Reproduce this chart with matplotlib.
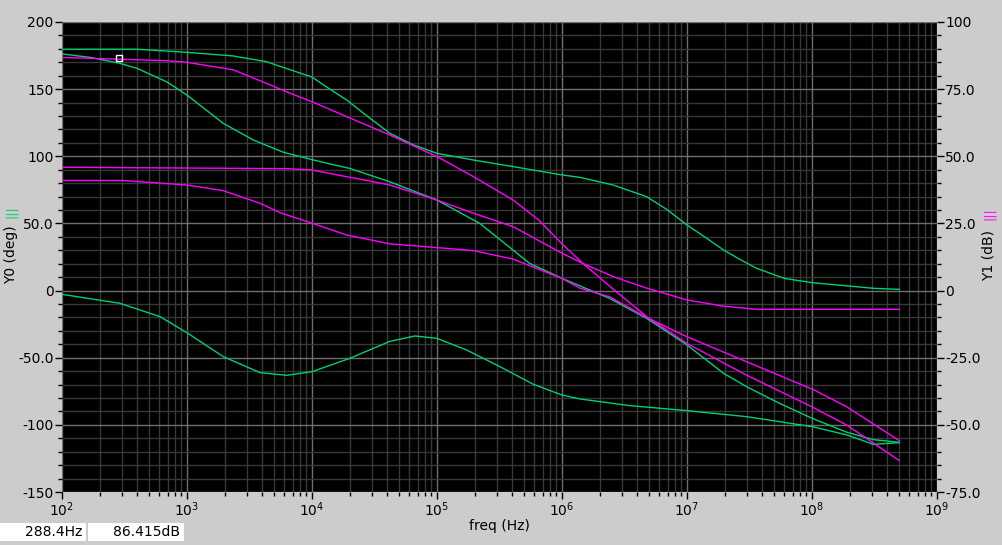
import matplotlib
matplotlib.use("Agg")
import matplotlib.pyplot as plt
from matplotlib.ticker import MultipleLocator, FixedLocator, FixedFormatter, LogLocator, NullFormatter

plt.rcParams['axes.unicode_minus'] = False
plt.rcParams['font.family'] = 'DejaVu Sans'

# phase curves (deg, left axis) - green
g1_f = [1e2, 398, 1e3, 2.34e3, 4.3e3, 5.55e3, 1e4, 1.39e4, 1.89e4, 2.8e4, 4.2e4, 6.5e4, 1e5, 1.96e5, 4.07e5, 1e6,
        1.39e6, 2.57e6, 4.76e6, 7e6, 1e7, 1.4e7, 1.96e7, 2.7e7, 3.6e7, 6e7, 1e8, 3.1e8, 5e8]
g1_v = [179.7, 179.7, 177.4, 174.7, 170.5, 167.0, 159.0, 150.0, 142.0, 129.5, 117.1, 108.4, 102.2, 97.2, 92.3, 86.1,
        84.3, 78.6, 69.9, 60.0, 48.8, 39.7, 30.2, 22.8, 16.6, 9.1, 5.9, 1.7, 0.9]

g2_f = [1e2, 167, 291, 398, 687, 1e3, 1.95e3, 3.4e3, 5.9e3, 1e4, 1.39e4, 2e4, 4.2e4, 1e5, 2.2e5, 5.5e5,
        1e6, 1.39e6, 2.4e6, 4.76e6, 1e7, 1.96e7, 3e7, 5.5e7, 1e8, 1.9e8, 3.1e8, 5e8]
g2_v = [176.2, 173.7, 169.2, 165.5, 155.5, 145.6, 124.5, 112.1, 103.0, 97.5, 94.3, 91.0, 81.0, 67.4, 50.0, 20.3,
        9.1, 3.5, -5.8, -20.7, -40.5, -61.6, -71.6, -84.0, -95.1, -105.5, -111.0, -113.0]

g3_f = [1e2, 291, 608, 1e3, 1950, 3840, 6270, 1e4, 2e4, 4.2e4, 6.67e4, 1e5, 1.73e5, 3.19e5, 5.9e5, 1e6,
        1.39e6, 3.5e6, 1e7, 3e7, 1e8, 1.9e8, 3.1e8, 5e8]
g3_v = [-2.8, -9.5, -19.4, -31.4, -49.2, -61.1, -63.1, -60.4, -50.5, -37.8, -33.8, -35.6, -44.3, -56.7, -69.8, -77.8,
        -80.7, -85.7, -89.4, -93.9, -101.3, -107.5, -114.5, -113.3]

# magnitude curves (dB, right axis) - magenta
m1_f = [1e2, 687, 1e3, 2.34e3, 4.3e3, 6.27e3, 1e4, 1.89e4, 4.2e4, 1e5, 1.96e5, 4.07e5, 6.5e5, 1e6, 1.47e6,
        2.65e6, 4.76e6, 1e7, 3e7, 1e8, 1.9e8, 5e8]
m1_v = [86.8, 85.6, 85.0, 82.2, 77.2, 74.0, 70.3, 64.8, 57.9, 49.9, 42.4, 33.7, 26.3, 17.4, 10.1,
        0.0, -9.7, -19.7, -31.5, -43.3, -50.1, -63.3]

m2_f = [1e2, 6.27e3, 1e4, 1.89e4, 2.42e4, 4.2e4, 1e5, 1.96e5, 4.07e5, 1e6, 1.47e6, 2.57e6, 4.76e6,
        1e7, 1.96e7, 3.6e7, 5e8]
m2_v = [45.9, 45.4, 44.9, 42.4, 41.5, 39.3, 33.7, 28.8, 23.8, 13.9, 10.1, 5.2, 0.9,
        -3.5, -5.8, -7.0, -7.0]

m3_f = [1e2, 300, 537, 1e3, 1950, 3840, 5.55e3, 1e4, 1.89e4, 4.2e4, 1e5, 1.96e5, 4.07e5, 1e6, 1.39e6,
        2.4e6, 4.76e6, 1e7, 3e7, 1.04e8, 1.9e8, 5e8]
m3_v = [41.0, 41.0, 40.2, 39.3, 37.2, 32.5, 29.0, 25.1, 20.7, 17.4, 16.0, 14.9, 11.7, 4.5, 0.9,
        -2.3, -10.0, -17.2, -26.5, -37.0, -43.3, -55.9]

cursor_f = 288.4
cursor_db = 86.415

green = '#00d070'
magenta = '#ff00ff'
bg = '#cccccc'

fig = plt.figure(figsize=(10.02, 5.45), dpi=100, facecolor=bg)
ax = fig.add_axes([62 / 1002, 53 / 545, 875 / 1002, 470 / 545])
ax.set_facecolor('black')
ax.set_xscale('log')
ax.set_xlim(1e2, 1e9)
ax.set_ylim(-150, 200)
ax.yaxis.set_major_locator(FixedLocator([-150, -100, -50, 0, 50, 100, 150, 200]))
ax.yaxis.set_major_formatter(FixedFormatter(['-150', '-100', '-50.0', '0', '50.0', '100', '150', '200']))
ax.yaxis.set_minor_locator(MultipleLocator(10))
ax.xaxis.set_minor_locator(LogLocator(base=10, subs=range(2, 10), numticks=20))
ax.xaxis.set_minor_formatter(NullFormatter())

ax.grid(which='major', color='#6e6e6e', linewidth=1)
ax.grid(which='minor', color='#383838', linewidth=1)
ax.set_axisbelow(True)
for s in ax.spines.values():
    s.set_visible(False)

ax.tick_params(which='major', length=5, width=1, color='black', labelsize=10, pad=1)
ax.tick_params(which='minor', length=3, width=1, color='black')

ax.plot(g1_f, g1_v, color=green, linewidth=1)
ax.plot(g2_f, g2_v, color=green, linewidth=1)
ax.plot(g3_f, g3_v, color=green, linewidth=1)

ax2 = ax.twinx()
ax2.set_ylim(-75, 100)
ax2.yaxis.set_major_locator(FixedLocator([-75, -50, -25, 0, 25, 50, 75, 100]))
ax2.yaxis.set_major_formatter(FixedFormatter(['-75.0', '-50.0', '-25.0', '0', '25.0', '50.0', '75.0', '100']))
ax2.yaxis.set_minor_locator(MultipleLocator(5))
for s in ax2.spines.values():
    s.set_visible(False)
ax2.tick_params(which='major', length=5, width=1, color='black', labelsize=10, pad=1)
ax2.tick_params(which='minor', length=3, width=1, color='black')

ax2.plot(m1_f, m1_v, color=magenta, linewidth=1)
ax2.plot(m2_f, m2_v, color=magenta, linewidth=1)
ax2.plot(m3_f, m3_v, color=magenta, linewidth=1)
ax2.plot([cursor_f], [cursor_db], marker='s', markersize=4, markerfacecolor='none',
         markeredgecolor='white', markeredgewidth=1)

ax.set_xlabel('freq (Hz)', fontsize=10, labelpad=0)

fig.text(11 / 1002, 1 - 255 / 545, 'Y0 (deg)', rotation=90, fontsize=10, ha='center', va='center')
fig.text(11 / 1002, 1 - 212 / 545, '|||', rotation=90, fontsize=9, color=green, ha='center', va='center')
fig.text(989 / 1002, 1 - 255 / 545, 'Y1 (dB)', rotation=90, fontsize=10, ha='center', va='center')
fig.text(989 / 1002, 1 - 214 / 545, '|||', rotation=90, fontsize=9, color=magenta, ha='center', va='center')

fig.patches.append(plt.Rectangle((0, 4 / 545), 86 / 1002, 18 / 545, transform=fig.transFigure,
                                 facecolor='white', edgecolor='none'))
fig.patches.append(plt.Rectangle((88 / 1002, 4 / 545), 96 / 1002, 18 / 545, transform=fig.transFigure,
                                 facecolor='white', edgecolor='none'))
fig.text(82 / 1002, 13 / 545, f'{cursor_f}Hz', fontsize=10, ha='right', va='center')
fig.text(180 / 1002, 13 / 545, f'{cursor_db}dB', fontsize=10, ha='right', va='center')

fig.savefig('out.png', dpi=100, facecolor=bg)
